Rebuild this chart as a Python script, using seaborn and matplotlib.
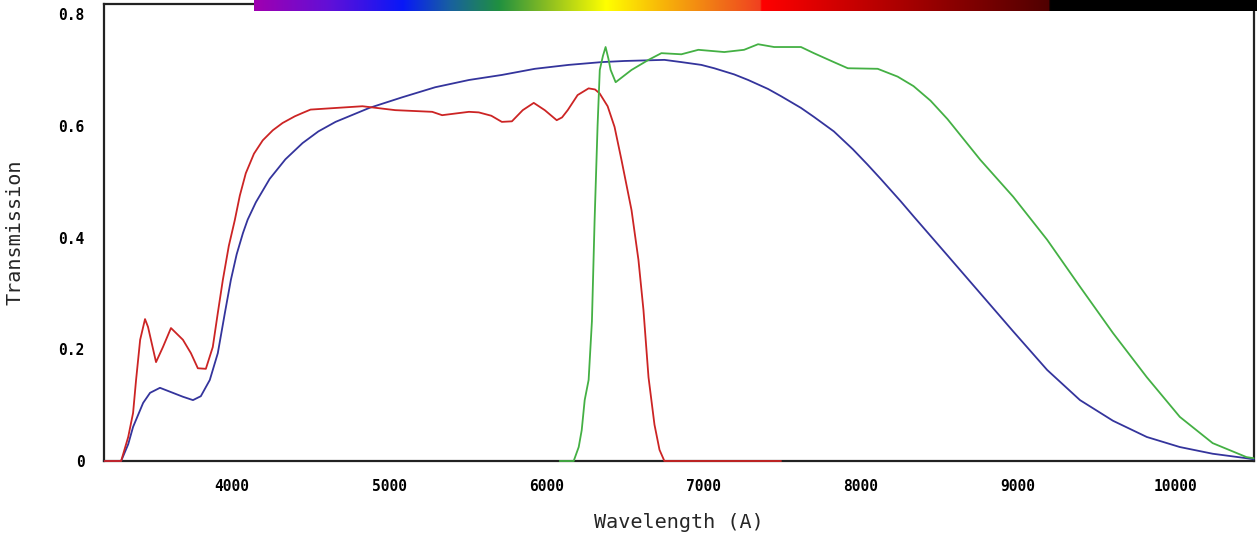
import numpy as np
import pandas as pd
import matplotlib
matplotlib.use("Agg")
import matplotlib.pyplot as plt
import seaborn as sns
from matplotlib.colors import LinearSegmentedColormap

# ---- data (wavelength in Angstrom, transmission) ----
blue_wl = [3190, 3295, 3340, 3371, 3435, 3479, 3542, 3606, 3688, 3752, 3802, 3859, 3910,
           3955, 3993, 4030, 4070, 4100, 4152, 4240, 4340, 4449, 4550, 4659, 4874, 5083,
           5293, 5508, 5717, 5927, 6142, 6352, 6497, 6751, 6859, 6986, 7068, 7195, 7284,
           7410, 7493, 7620, 7702, 7829, 7950, 8042, 8127, 8254, 8336, 8552, 8761, 8970,
           9186, 9395, 9605, 9820, 10030, 10239, 10454, 10500]
blue_tr = [0.0, 0.0, 0.03, 0.061, 0.104, 0.122, 0.131, 0.124, 0.115, 0.109, 0.116, 0.145,
           0.193, 0.265, 0.324, 0.37, 0.408, 0.432, 0.463, 0.505, 0.540, 0.569, 0.590,
           0.607, 0.632, 0.651, 0.669, 0.682, 0.691, 0.702, 0.709, 0.714, 0.716, 0.718,
           0.714, 0.709, 0.703, 0.692, 0.682, 0.666, 0.653, 0.632, 0.616, 0.590, 0.558,
           0.531, 0.505, 0.465, 0.438, 0.368, 0.300, 0.232, 0.163, 0.109, 0.072, 0.043,
           0.025, 0.013, 0.005, 0.003]

red_wl = [3190, 3295, 3340, 3371, 3390, 3416, 3447, 3466, 3517, 3561, 3612, 3688, 3739,
          3783, 3834, 3878, 3910, 3942, 3980, 4018, 4050, 4088, 4140, 4196, 4260, 4322,
          4400, 4449, 4500, 4830, 5039, 5274, 5337, 5508, 5570, 5650, 5717, 5781, 5850,
          5920, 5990, 6066, 6100, 6136, 6199, 6269, 6310, 6339, 6390, 6434, 6478, 6542,
          6586, 6618, 6650, 6688, 6720, 6751, 7493]
red_tr = [0.0, 0.0, 0.043, 0.086, 0.145, 0.217, 0.254, 0.240, 0.177, 0.204, 0.238, 0.217,
          0.193, 0.166, 0.165, 0.204, 0.265, 0.324, 0.385, 0.431, 0.475, 0.515, 0.550,
          0.574, 0.592, 0.605, 0.617, 0.623, 0.629, 0.635, 0.628, 0.625, 0.619, 0.625,
          0.624, 0.618, 0.607, 0.608, 0.628, 0.641, 0.628, 0.610, 0.615, 0.628, 0.655,
          0.667, 0.665, 0.658, 0.635, 0.598, 0.539, 0.449, 0.360, 0.270, 0.150, 0.065,
          0.020, 0.0, 0.0]

green_wl = [6085, 6174, 6206, 6225, 6244, 6269, 6290, 6307, 6326, 6340, 6360, 6377, 6395,
            6409, 6441, 6542, 6650, 6732, 6859, 6967, 7132, 7258, 7347, 7449, 7620, 7702,
            7829, 7918, 8108, 8235, 8336, 8444, 8552, 8761, 8970, 9186, 9395, 9605, 9820,
            10030, 10239, 10454, 10500]
green_tr = [0.0, 0.0, 0.025, 0.055, 0.109, 0.145, 0.25, 0.43, 0.60, 0.70, 0.725, 0.741,
            0.72, 0.70, 0.678, 0.700, 0.718, 0.730, 0.728, 0.736, 0.732, 0.736, 0.746,
            0.741, 0.741, 0.730, 0.714, 0.703, 0.702, 0.688, 0.671, 0.645, 0.612, 0.539,
            0.473, 0.396, 0.312, 0.229, 0.150, 0.079, 0.032, 0.007, 0.005]

series_names = ["blue", "red", "green"]
series_colors = ["#34349c", "#cc2424", "#44b044"]

x_ticks = [4000, 5000, 6000, 7000, 8000, 9000, 10000]
x_tick_labels = ["4000", "5000", "6000", "7000", "8000", "9000", "10000"]
y_ticks = [0, 0.2, 0.4, 0.6, 0.8]
y_tick_labels = ["0", "0.2", "0.4", "0.6", "0.8"]

# spectrum strip at the top (position along strip, colour)
strip_pos = [0.0, 0.076, 0.148, 0.195, 0.244, 0.295, 0.351, 0.405, 0.465, 0.505,
             0.506, 0.793, 0.794, 1.0]
strip_col = ["#a000b0", "#6010d8", "#0818f8", "#1860a0", "#209040", "#90c020",
             "#ffff00", "#f8b808", "#f07018", "#f04020", "#ff0000", "#500000",
             "#000000", "#000000"]

# ---- build frame ----
frames = []
for name, wl, tr in zip(series_names, [blue_wl, red_wl, green_wl],
                        [blue_tr, red_tr, green_tr]):
    frames.append(pd.DataFrame({"wl": wl, "tr": tr, "filter": name}))
df = pd.concat(frames, ignore_index=True)

sns.set_style("white")
plt.rcParams['font.family'] = ['DejaVu Sans Mono', 'DejaVu Sans']

W, H = 1257, 547
fig = plt.figure(figsize=(W / 100, H / 100), dpi=100)
ax = fig.add_axes([104 / W, 1 - 461 / H, (1254 - 104) / W, (461 - 4) / H])

sns.lineplot(data=df, x="wl", y="tr", hue="filter", hue_order=series_names,
             palette=dict(zip(series_names, series_colors)), estimator=None,
             sort=False, legend=False, linewidth=1.3, ax=ax)
for ln in ax.get_lines():
    ln.set_clip_on(False)
    ln.set_zorder(3)

ax.set_xlim(3186, 10502)
ax.set_ylim(0, 0.818)
ax.set_xticks(x_ticks)
ax.set_xticklabels(x_tick_labels)
ax.set_yticks(y_ticks)
ax.set_yticklabels(y_tick_labels)
ax.tick_params(axis="both", direction="out", length=9, width=1.5, pad=5,
               labelsize=10.5, colors="black")
ax.tick_params(axis="x", pad=4)
for lab in ax.get_xticklabels() + ax.get_yticklabels():
    lab.set_fontweight("bold")
for sp in ax.spines.values():
    sp.set_visible(True)
    sp.set_color("#222222")
    sp.set_linewidth(1.6)
    sp.set_zorder(2)

ax.set_xlabel("Wavelength (A)", fontsize=14.5, labelpad=14)
ax.set_ylabel("Transmission", fontsize=14.5, labelpad=24)

# spectrum strip
cmap = LinearSegmentedColormap.from_list("strip", list(zip(strip_pos, strip_col)), N=1024)
sax = fig.add_axes([254 / W, 1 - 11 / H, (W - 254) / W, 11 / H])
sax.imshow(np.linspace(0, 1, 1024)[None, :], aspect="auto", cmap=cmap,
           extent=[0, 1, 0, 1])
sax.set_axis_off()

fig.savefig("out.png", dpi=100)
